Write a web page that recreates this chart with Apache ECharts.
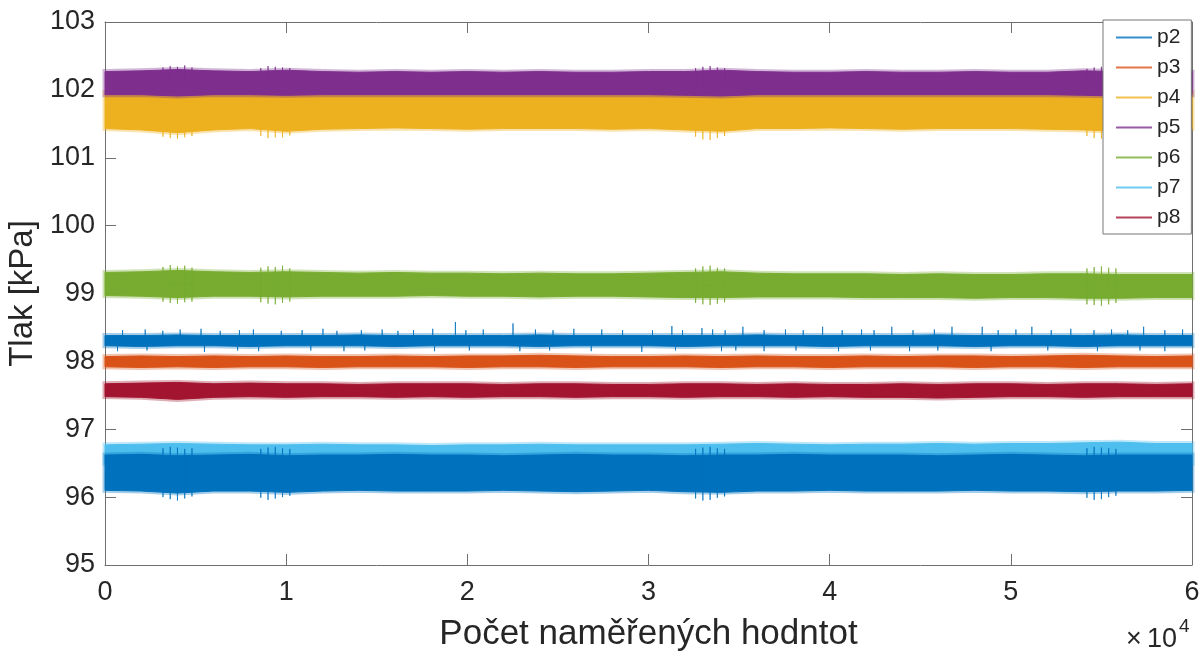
<!DOCTYPE html>
<html>
<head>
<meta charset="utf-8">
<title>Tlak p2-p8</title>
<script src="https://cdn.jsdelivr.net/npm/echarts@6/dist/echarts.min.js"></script>
<style>
  html, body { margin: 0; padding: 0; background: #fff; }
  #chart { width: 1203px; height: 651px; }
</style>
</head>
<body>
<div id="chart"></div>
<script>
const sampleIdx = [0, 2000, 4000, 6000, 8000, 10000, 12000, 14000, 16000, 18000, 20000,
  22000, 24000, 26000, 28000, 30000, 32000, 34000, 36000, 38000, 40000,
  42000, 44000, 46000, 48000, 50000, 52000, 54000, 56000, 58000, 60000];

const xTicks = ['0', '1', '2', '3', '4', '5', '6'];

// upper / lower envelope of each noisy signal [kPa]
const p2Hi = [98.38, 98.38, 98.39, 98.38, 98.38, 98.38, 98.38, 98.39, 98.38, 98.38, 98.38, 98.38, 98.39, 98.38, 98.38, 98.38, 98.38, 98.38, 98.39, 98.38, 98.38, 98.38, 98.38, 98.39, 98.38, 98.38, 98.38, 98.38, 98.39, 98.38, 98.38];
const p2Lo = [98.23, 98.22, 98.23, 98.23, 98.22, 98.23, 98.23, 98.23, 98.22, 98.23, 98.23, 98.23, 98.22, 98.23, 98.23, 98.23, 98.22, 98.23, 98.23, 98.23, 98.22, 98.23, 98.23, 98.23, 98.22, 98.23, 98.23, 98.22, 98.23, 98.23, 98.23];

const p3Hi = [98.07, 98.08, 98.07, 98.08, 98.07, 98.08, 98.07, 98.07, 98.08, 98.07, 98.08, 98.08, 98.09, 98.08, 98.07, 98.07, 98.08, 98.07, 98.08, 98.07, 98.07, 98.08, 98.07, 98.08, 98.08, 98.07, 98.08, 98.09, 98.08, 98.07, 98.08];
const p3Lo = [97.92, 97.91, 97.92, 97.91, 97.92, 97.92, 97.91, 97.92, 97.92, 97.92, 97.91, 97.92, 97.92, 97.91, 97.92, 97.92, 97.92, 97.91, 97.92, 97.92, 97.91, 97.92, 97.92, 97.92, 97.91, 97.92, 97.92, 97.91, 97.92, 97.92, 97.92];

const p4Hi = [101.96, 101.96, 101.96, 101.96, 101.96, 101.96, 101.96, 101.96, 101.96, 101.96, 101.96, 101.96, 101.96, 101.96, 101.96, 101.96, 101.96, 101.96, 101.96, 101.96, 101.96, 101.96, 101.96, 101.96, 101.96, 101.96, 101.96, 101.96, 101.96, 101.96, 101.96];
const p4Lo = [101.43, 101.41, 101.37, 101.41, 101.43, 101.39, 101.42, 101.43, 101.44, 101.43, 101.42, 101.43, 101.43, 101.43, 101.42, 101.43, 101.41, 101.39, 101.43, 101.43, 101.44, 101.43, 101.42, 101.43, 101.43, 101.43, 101.42, 101.41, 101.39, 101.41, 101.43];

const p5Hi = [102.27, 102.28, 102.30, 102.28, 102.27, 102.29, 102.27, 102.26, 102.27, 102.26, 102.27, 102.26, 102.27, 102.26, 102.26, 102.27, 102.27, 102.29, 102.27, 102.26, 102.26, 102.27, 102.26, 102.26, 102.27, 102.26, 102.26, 102.28, 102.27, 102.26, 102.26];
const p5Lo = [101.93, 101.93, 101.91, 101.93, 101.93, 101.92, 101.93, 101.93, 101.93, 101.93, 101.93, 101.93, 101.93, 101.93, 101.93, 101.93, 101.92, 101.91, 101.93, 101.93, 101.93, 101.93, 101.93, 101.93, 101.93, 101.93, 101.93, 101.92, 101.91, 101.93, 101.93];

const p6Hi = [99.31, 99.32, 99.34, 99.32, 99.31, 99.32, 99.31, 99.30, 99.31, 99.30, 99.30, 99.29, 99.30, 99.29, 99.29, 99.30, 99.31, 99.32, 99.30, 99.29, 99.29, 99.29, 99.28, 99.29, 99.28, 99.28, 99.29, 99.29, 99.28, 99.28, 99.28];
const p6Lo = [98.97, 98.96, 98.94, 98.96, 98.96, 98.95, 98.96, 98.96, 98.96, 98.97, 98.96, 98.96, 98.95, 98.96, 98.96, 98.95, 98.94, 98.94, 98.95, 98.95, 98.95, 98.94, 98.94, 98.94, 98.93, 98.94, 98.94, 98.93, 98.93, 98.94, 98.94];

const p7Hi = [96.77, 96.78, 96.79, 96.78, 96.77, 96.77, 96.78, 96.77, 96.77, 96.76, 96.77, 96.77, 96.78, 96.77, 96.77, 96.77, 96.77, 96.78, 96.79, 96.78, 96.77, 96.78, 96.78, 96.79, 96.78, 96.79, 96.79, 96.80, 96.81, 96.79, 96.79];
const p7Lo = [96.50, 96.50, 96.50, 96.50, 96.50, 96.50, 96.50, 96.50, 96.50, 96.50, 96.50, 96.50, 96.50, 96.50, 96.50, 96.50, 96.50, 96.50, 96.50, 96.50, 96.50, 96.50, 96.50, 96.50, 96.50, 96.50, 96.50, 96.50, 96.50, 96.50, 96.50];

const p8Hi = [97.67, 97.68, 97.69, 97.67, 97.68, 97.67, 97.67, 97.66, 97.67, 97.67, 97.67, 97.66, 97.67, 97.67, 97.66, 97.66, 97.67, 97.67, 97.66, 97.67, 97.66, 97.66, 97.67, 97.66, 97.67, 97.67, 97.66, 97.67, 97.67, 97.66, 97.67];
const p8Lo = [97.48, 97.47, 97.44, 97.47, 97.48, 97.47, 97.48, 97.48, 97.47, 97.48, 97.47, 97.48, 97.48, 97.47, 97.48, 97.48, 97.47, 97.48, 97.48, 97.47, 97.48, 97.47, 97.47, 97.46, 97.47, 97.48, 97.48, 97.47, 97.48, 97.48, 97.48];

// last plotted line (same blue as p2, no legend entry)
const p1Hi = [96.62, 96.63, 96.61, 96.62, 96.63, 96.61, 96.62, 96.62, 96.63, 96.62, 96.62, 96.61, 96.62, 96.63, 96.62, 96.62, 96.61, 96.62, 96.62, 96.63, 96.62, 96.62, 96.62, 96.61, 96.62, 96.63, 96.62, 96.61, 96.62, 96.62, 96.62];
const p1Lo = [96.10, 96.09, 96.06, 96.09, 96.09, 96.07, 96.09, 96.10, 96.09, 96.09, 96.09, 96.10, 96.09, 96.08, 96.09, 96.10, 96.08, 96.07, 96.09, 96.09, 96.10, 96.09, 96.09, 96.09, 96.10, 96.09, 96.09, 96.08, 96.09, 96.09, 96.10];

// single spikes of p2 [sample, kPa]
const p2Spikes = [[970, 98.46], [2220, 98.47], [3190, 98.45], [4150, 98.47], [5300, 98.48], [6360, 98.45], [7420, 98.46], [8190, 98.47], [9730, 98.45], [10880, 98.46],
  [12030, 98.48], [12800, 98.45], [14150, 98.46], [15300, 98.47], [16170, 98.45], [17030, 98.46], [18090, 98.48], [19340, 98.58], [19920, 98.46], [20880, 98.47],
  [22520, 98.56], [23760, 98.47], [24730, 98.46], [25880, 98.48], [27420, 98.47], [28570, 98.46], [30220, 98.46], [31290, 98.52], [31880, 98.46], [32950, 98.49],
  [33540, 98.47], [34230, 98.46], [35210, 98.51], [36380, 98.46], [37560, 98.47], [38540, 98.46], [39610, 98.51], [40690, 98.46], [41760, 98.47], [42450, 98.46],
  [43430, 98.51], [44600, 98.46], [45780, 98.47], [46750, 98.51], [48420, 98.51], [49300, 98.46], [50280, 98.47], [51160, 98.51], [52230, 98.46], [53310, 98.48],
  [54590, 98.46], [55560, 98.47], [56450, 98.46], [57330, 98.51], [58500, 98.46], [59480, 98.47],
  [690, 98.15], [2320, 98.16], [5490, 98.14], [7320, 98.16], [8480, 98.15], [11360, 98.16], [13190, 98.15], [14340, 98.16], [18190, 98.15], [20110, 98.16],
  [22900, 98.15], [24540, 98.16], [26840, 98.15], [29630, 98.14], [31490, 98.16], [34030, 98.15], [34820, 98.16], [36380, 98.15], [38140, 98.16], [40490, 98.15],
  [42250, 98.16], [44410, 98.15], [45970, 98.16], [48910, 98.15], [52040, 98.16], [54780, 98.15], [57130, 98.16], [58500, 98.15]];

// bursts of large oscillation seen on several channels at the same time
const burstX = [3200, 3600, 4000, 4400, 4800, 8600, 9000, 9400, 9800, 10200,
  32600, 33000, 33400, 33800, 34200, 54200, 54600, 55000, 55400, 55800];
const p4BurstLo = [101.31, 101.29, 101.28, 101.30, 101.32, 101.32, 101.29, 101.30, 101.30, 101.33, 101.31, 101.27, 101.26, 101.29, 101.32, 101.32, 101.29, 101.28, 101.30, 101.33];
const p5BurstHi = [102.33, 102.35, 102.34, 102.36, 102.33, 102.32, 102.35, 102.34, 102.33, 102.32, 102.32, 102.34, 102.35, 102.33, 102.32, 102.31, 102.33, 102.34, 102.32, 102.31];
const p6BurstHi = [99.39, 99.42, 99.40, 99.41, 99.38, 99.38, 99.40, 99.39, 99.41, 99.37, 99.37, 99.40, 99.41, 99.38, 99.37, 99.37, 99.39, 99.40, 99.38, 99.37];
const p6BurstLo = [98.88, 98.86, 98.85, 98.87, 98.88, 98.87, 98.85, 98.84, 98.86, 98.88, 98.86, 98.84, 98.83, 98.85, 98.87, 98.84, 98.83, 98.82, 98.84, 98.86];
const p1BurstHi = [96.72, 96.74, 96.73, 96.71, 96.72, 96.71, 96.73, 96.74, 96.72, 96.71, 96.71, 96.73, 96.74, 96.72, 96.71, 96.72, 96.74, 96.73, 96.72, 96.71];
const p1BurstLo = [96.00, 95.97, 95.95, 95.98, 96.01, 95.99, 95.96, 95.98, 96.00, 96.02, 95.98, 95.95, 95.96, 95.99, 96.01, 95.99, 95.96, 95.97, 96.00, 96.02];

const legendNames = ['p2', 'p3', 'p4', 'p5', 'p6', 'p7', 'p8'];
const colors = {
  p2: '#0072BD', p3: '#D95319', p4: '#EDB120', p5: '#7E2F8E',
  p6: '#77AC30', p7: '#4DBEEE', p8: '#A2142F', p1: '#0072BD'
};

const FONT = "'Liberation Sans', Arial, Helvetica, sans-serif";
const TXT = '#262626';
const AX = '#6f6f6f';

// filled band between lower and upper envelope, with a soft fuzzy rim
function band(name, hi, lo) {
  const c = colors[name];
  const pts = sampleIdx.map((x, i) => [x, hi[i], lo[i]]);
  return {
    name: name, type: 'custom', silent: true,
    data: pts,
    encode: { x: 0, y: [1, 2] },
    itemStyle: { color: c, borderWidth: 0 },
    renderItem: function (params, api) {
      if (params.dataIndex !== 0) return null;
      const top = pts.map(p => api.coord([p[0], p[1]]));
      const bot = pts.map(p => api.coord([p[0], p[2]])).reverse();
      const poly = top.concat(bot);
      return {
        type: 'group',
        children: [{
          type: 'polygon', shape: { points: poly },
          style: { fill: 'none', stroke: c, lineWidth: 5, opacity: 0.35 }
        }, {
          type: 'polygon', shape: { points: poly },
          style: { fill: c, stroke: c, lineWidth: 1 }
        }]
      };
    }
  };
}

// vertical spikes going out of the band centre
function spikes(name, pts, hi, lo) {
  const data = [];
  pts.forEach(function (p) {
    const i = Math.round(p[0] / 2000);
    const mid = (hi[i] + lo[i]) / 2;
    data.push([p[0], mid], [p[0], p[1]], [p[0], mid]);
  });
  return {
    name: name + '_spk', type: 'line', symbol: 'none', silent: true, data: data,
    lineStyle: { color: colors[name], width: 1, opacity: 0.75 }
  };
}

function zip(xs, ys) {
  return xs.map((x, i) => [x, ys[i]]);
}

const chart = echarts.init(document.getElementById('chart'), null, { renderer: 'canvas' });

const series = [
  band('p2', p2Hi, p2Lo),
  spikes('p2', p2Spikes, p2Hi, p2Lo),
  band('p3', p3Hi, p3Lo),
  band('p4', p4Hi, p4Lo),
  spikes('p4', zip(burstX, p4BurstLo), p4Hi, p4Lo),
  band('p5', p5Hi, p5Lo),
  spikes('p5', zip(burstX, p5BurstHi), p5Hi, p5Lo),
  band('p6', p6Hi, p6Lo),
  spikes('p6', zip(burstX, p6BurstHi).concat(zip(burstX, p6BurstLo)), p6Hi, p6Lo),
  band('p7', p7Hi, p7Lo),
  band('p8', p8Hi, p8Lo),
  band('p1', p1Hi, p1Lo),
  spikes('p1', zip(burstX, p1BurstHi).concat(zip(burstX, p1BurstLo)), p1Hi, p1Lo)
];

const frameAxis = {
  axisLine: { show: true, onZero: false, lineStyle: { color: AX, width: 1 } },
  axisTick: { show: true, inside: true, length: 11, lineStyle: { color: AX } },
  splitLine: { show: false }
};

const option = {
  animation: false,
  textStyle: { fontFamily: FONT },
  grid: { left: 105, right: 11, top: 22, bottom: 86, containLabel: false, outerBoundsMode: 'none' },
  legend: {
    data: legendNames,
    orient: 'vertical',
    left: 1103, top: 20,
    padding: [7, 11, 6, 13],
    itemGap: 9,
    itemWidth: 36, itemHeight: 2,
    icon: 'rect',
    itemStyle: { borderWidth: 0, opacity: 0.8 },
    backgroundColor: '#fff',
    borderColor: '#777', borderWidth: 1,
    textStyle: { fontSize: 21, color: TXT, fontFamily: FONT },
    selectedMode: false
  },
  xAxis: [Object.assign({
    type: 'value', min: 0, max: 60000, interval: 10000, position: 'bottom',
    name: 'Počet naměřených hodntot', nameLocation: 'middle', nameGap: 52,
    nameTextStyle: { fontSize: 35, color: TXT, fontFamily: FONT },
    axisLabel: {
      fontSize: 27, color: TXT, margin: 14, fontFamily: FONT,
      formatter: function (v) { return xTicks[Math.round(v / 10000)]; }
    }
  }, frameAxis), Object.assign({
    type: 'value', min: 0, max: 60000, interval: 10000, position: 'top',
    axisLabel: { show: false }
  }, frameAxis)],
  yAxis: [Object.assign({
    type: 'value', min: 95, max: 103, interval: 1, position: 'left',
    name: 'Tlak [kPa]', nameLocation: 'middle', nameGap: 59,
    nameTextStyle: { fontSize: 33, color: TXT, fontFamily: FONT },
    axisLabel: { fontSize: 27, color: TXT, margin: 10, fontFamily: FONT }
  }, frameAxis), Object.assign({
    type: 'value', min: 95, max: 103, interval: 1, position: 'right',
    axisLabel: { show: false }
  }, frameAxis)],
  graphic: [
    { type: 'text', left: 1126, top: 626,
      style: { text: '×', fontSize: 27, fill: TXT, fontFamily: FONT } },
    { type: 'text', left: 1147, top: 626,
      style: { text: '10', fontSize: 27, fill: TXT, fontFamily: FONT } },
    { type: 'text', left: 1179, top: 617,
      style: { text: '4', fontSize: 19, fill: TXT, fontFamily: FONT } }
  ],
  series: series
};

chart.setOption(option);
</script>
</body>
</html>
